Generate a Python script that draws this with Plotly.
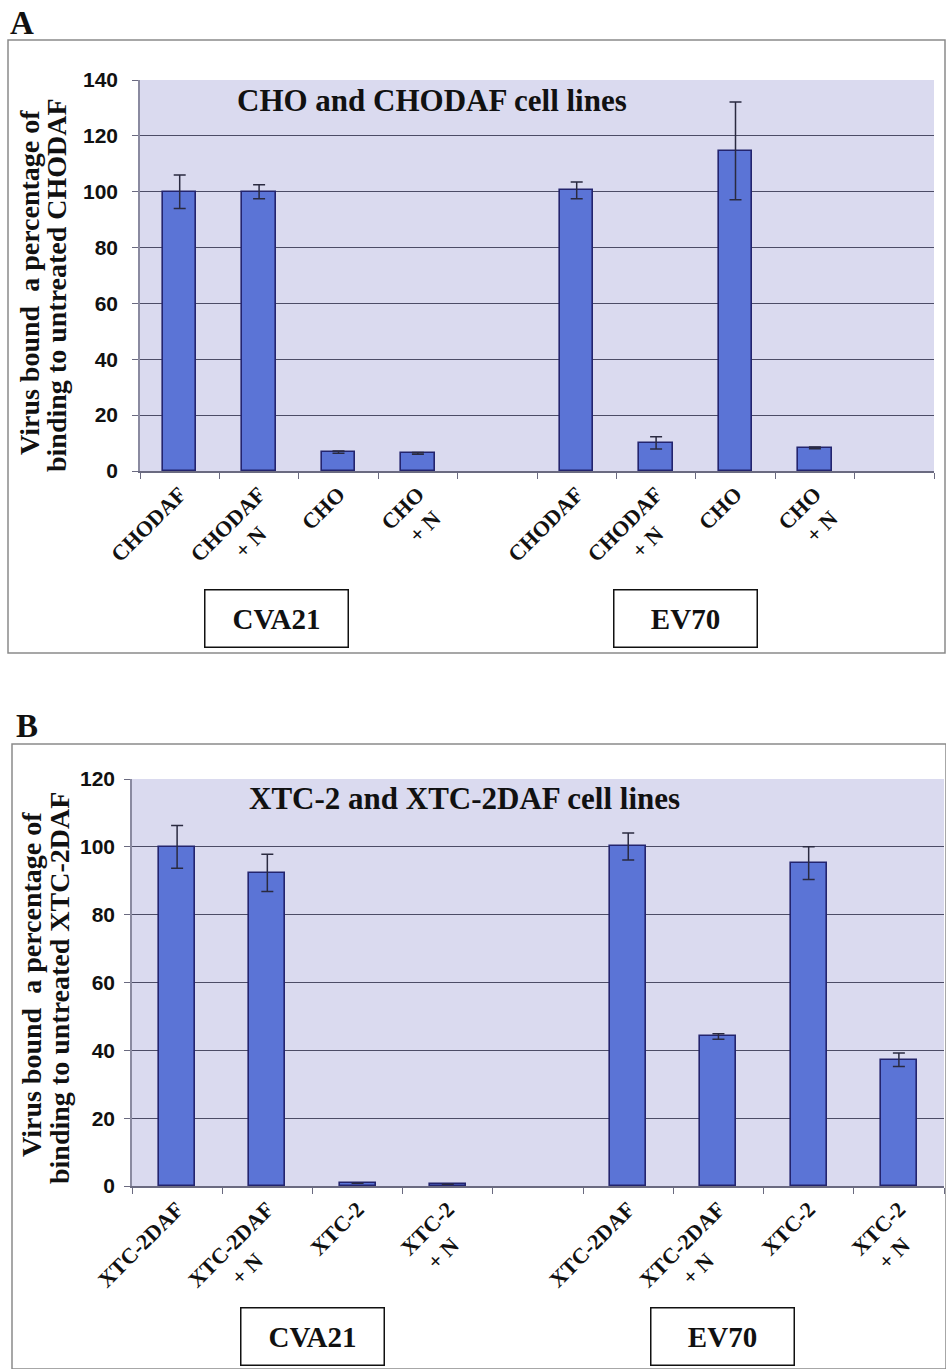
import plotly.graph_objects as go

W, H = 946, 1369

# ---------------- data ----------------
labels_A = ["CHODAF", "CHODAF<br>+ N", "CHO", "CHO<br>+ N"]
cva21_A = [100.0, 100.0, 6.8, 6.3]
cva21_A_err = [6.0, 2.5, 0.4, 0.3]
ev70_A = [100.5, 10.1, 114.6, 8.3]
ev70_A_err = [3.0, 2.2, 17.5, 0.3]

labels_B = ["XTC-2DAF", "XTC-2DAF<br>+ N", "XTC-2", "XTC-2<br>+ N"]
cva21_B = [100.0, 92.3, 0.8, 0.5]
cva21_B_err = [6.3, 5.5, 0.0, 0.0]
ev70_B = [100.1, 44.1, 95.2, 37.2]
ev70_B_err = [4.0, 0.8, 4.8, 2.0]

y_ticks_A = [0, 20, 40, 60, 80, 100, 120, 140]
y_ticks_B = [0, 20, 40, 60, 80, 100, 120]

# ---------------- helpers ----------------
def px(x):
    return x / W

def py(y):
    return 1 - y / H

SERIF = "Liberation Serif"
SANS = "Liberation Sans"
BAR_FILL = "#5b74d6"
BAR_LINE = "#23246e"
ERR = "#2a2a40"
PLOT_BG = "#dadaef"
GRID = "#4c4c66"
XFONT = 22

def fmt_label(t):
    # centre the second line under the first (tick labels are end-anchored)
    parts = t.split("<br>")
    if len(parts) == 2:
        pad_px = (0.68 * XFONT * len(parts[0]) - 0.55 * XFONT * len(parts[1])) / 2
        n = max(0, round(pad_px / (0.25 * XFONT)))
        return f"<b>{parts[0]}<br>{parts[1]}{'&nbsp;' * n}</b>"
    return f"<b>{t}</b>"

fig = go.Figure()

def add_panel(labels, v1, e1, v2, e2, xa, ya, gap, width):
    n = len(labels)
    pos1 = list(range(n))
    pos2 = [gap + 1 + i for i in range(n)]
    for pos, vals, errs in ((pos1, v1, e1), (pos2, v2, e2)):
        fig.add_trace(go.Bar(
            x=pos, y=vals, width=width,
            marker=dict(color=BAR_FILL, line=dict(color=BAR_LINE, width=1.6)),
            error_y=dict(type="data", array=errs, visible=True,
                         color=ERR, thickness=1.5, width=6),
            xaxis=xa, yaxis=ya, showlegend=False,
        ))
    return pos1 + pos2

posA = add_panel(labels_A, cva21_A, cva21_A_err, ev70_A, ev70_A_err, "x", "y", 4, 0.42)
posB = add_panel(labels_B, cva21_B, cva21_B_err, ev70_B, ev70_B_err, "x2", "y2", 4, 0.40)

def xaxis_cfg(dom_px, anchor, positions, texts, rng):
    return dict(
        domain=[px(dom_px[0]), px(dom_px[1])], anchor=anchor, automargin=False,
        range=rng, tickmode="array", tickvals=positions, ticktext=texts,
        tickangle=-45, ticks="", showgrid=False, zeroline=False,
        showline=True, linecolor="#6a6a80", linewidth=1.5,
        tickfont=dict(family=SERIF, size=XFONT, color="#111"),
        minor=dict(ticks="outside", tick0=0.5, dtick=1, ticklen=6,
                   tickcolor="#6a6a80", tickwidth=1, showgrid=False),
    )

def yaxis_cfg(dom_px, anchor, tvals, rng, standoff):
    return dict(
        domain=[py(dom_px[1]), py(dom_px[0])], anchor=anchor, automargin=False,
        range=rng, tickmode="array", tickvals=tvals,
        ticktext=[f"<b>{t}</b>" for t in tvals],
        ticks="outside", ticklen=6, tickcolor="#6a6a80",
        ticklabelstandoff=standoff,
        showgrid=True, gridcolor=GRID, gridwidth=1, zeroline=False,
        showline=True, linecolor="#8a8aa0", linewidth=1.5,
        tickfont=dict(family=SANS, size=21, color="#111"),
    )

fig.update_layout(
    width=W, height=H, margin=dict(l=0, r=0, t=0, b=0, autoexpand=False),
    paper_bgcolor="white", plot_bgcolor=PLOT_BG,
    xaxis=xaxis_cfg((140, 934), "y", posA,
                    [fmt_label(t) for t in labels_A + labels_A], [-0.5, 9.5]),
    yaxis=yaxis_cfg((80, 471), "x", y_ticks_A, [0, 140], 10),
    xaxis2=xaxis_cfg((132, 944), "y2", posB,
                     [fmt_label(t) for t in labels_B + labels_B], [-0.5, 8.5]),
    yaxis2=yaxis_cfg((779, 1186), "x2", y_ticks_B, [0, 120], 5),
    bargap=0,
)

# panel frames
for (x0, y0, x1, y1) in [(8, 40, 945, 653), (12, 744, 946, 1369)]:
    fig.add_shape(type="rect", xref="paper", yref="paper",
                  x0=px(x0), x1=px(x1), y0=py(y1), y1=py(y0),
                  line=dict(color="#8a8a8a", width=1.5), layer="below")

ann = []
# panel letters
ann.append(dict(text="<b>A</b>", x=px(8), y=py(23), xanchor="left", yanchor="middle",
                font=dict(family=SERIF, size=33, color="#111")))
ann.append(dict(text="<b>B</b>", x=px(14), y=py(726), xanchor="left", yanchor="middle",
                font=dict(family=SERIF, size=33, color="#111")))
# chart titles
ann.append(dict(text="<b>CHO and CHODAF cell lines</b>", x=px(432), y=py(101),
                xanchor="center", yanchor="middle",
                font=dict(family=SERIF, size=31, color="#111")))
ann.append(dict(text="<b>XTC-2 and XTC-2DAF cell lines</b>", x=px(464), y=py(798),
                xanchor="center", yanchor="middle",
                font=dict(family=SERIF, size=31, color="#111")))
# y titles (two lines each, placed separately for tight spacing)
for (line, cx, cy) in [("Virus bound  a percentage of", 29, 283),
                       ("binding to untreated CHODAF", 57, 285),
                       ("Virus bound  a percentage of", 31, 985),
                       ("binding to untreated XTC-2DAF", 59, 988)]:
    ann.append(dict(text=f"<b>{line}</b>", x=px(cx), y=py(cy), xanchor="center",
                    yanchor="middle", textangle=-90,
                    font=dict(family=SERIF, size=28, color="#111")))
# virus boxes
for (txt, cx, cy) in [("CVA21", 276, 618), ("EV70", 685, 618),
                      ("CVA21", 312, 1336), ("EV70", 722, 1336)]:
    ann.append(dict(text=f"<b>{txt}</b>", x=px(cx), y=py(cy), xanchor="center",
                    yanchor="middle", width=140, height=54,
                    bordercolor="#111", borderwidth=1.5, bgcolor="white",
                    font=dict(family=SERIF, size=29, color="#111")))

for a in ann:
    a.update(xref="paper", yref="paper", showarrow=False)
fig.update_layout(annotations=ann)

fig.write_html("out.html")
